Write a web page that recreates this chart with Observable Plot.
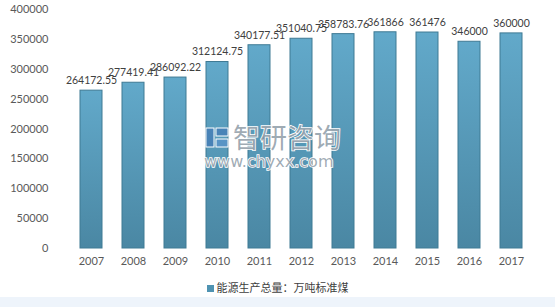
<!DOCTYPE html>
<html>
<head>
<meta charset="utf-8">
<script src="https://cdn.jsdelivr.net/npm/d3@7"></script>
<script src="https://cdn.jsdelivr.net/npm/@observablehq/plot@0.6"></script>
<style>
  html, body { margin: 0; padding: 0; background: #fff; }
  body { width: 555px; height: 307px; overflow: hidden; position: relative; font-family: Lato, "Noto Sans CJK SC", sans-serif; }
  #legend { position: absolute; top: 279px; left: 0; width: 555px; text-align: center; font-size: 11px; color: #404040; font-family: "Noto Sans CJK SC", sans-serif; }
  #legend .sw { display: inline-block; width: 7px; height: 7px; background: #4f93b2; margin-right: 3px; vertical-align: 0px; }
  #strip { position: absolute; top: 297px; left: 0; width: 555px; height: 10px; background: #eef4fb; }
</style>
</head>
<body>
<div id="chart"></div>
<div id="legend"><span class="sw"></span>能源生产总量：万吨标准煤</div>
<div id="strip"></div>
<script>
const years = ["2007","2008","2009","2010","2011","2012","2013","2014","2015","2016","2017"];
const values = [264172.55, 277419.41, 286092.22, 312124.75, 340177.51, 351040.75, 358783.76, 361866, 361476, 346000, 360000];
const labels = ["264172.55","277419.41","286092.22","312124.75","340177.51","351040.75","358783.76","361866","361476","346000","360000"];
const yTicks = [0, 50000, 100000, 150000, 200000, 250000, 300000, 350000, 400000];

const data = years.map((y, i) => ({year: y, value: values[i], label: labels[i]}));

const chart = Plot.plot({
  width: 555,
  height: 275,
  marginTop: 9,
  marginBottom: 27,
  marginLeft: 59,
  marginRight: 13,
  style: {fontFamily: "Lato, 'Noto Sans CJK SC', sans-serif", fontSize: "11px", color: "#595959", background: "transparent"},
  x: {domain: years, padding: 0.48, label: null, tickSize: 0, tickPadding: 9},
  y: {domain: [0, 400000], ticks: yTicks, label: null, tickSize: 0, tickPadding: 11, tickFormat: d => String(d)},
  marks: [
    Plot.gridY(yTicks, {stroke: "#d9d9d9", strokeOpacity: 1, x1: 59, x2: 542}),
    Plot.barY(data, {x: "year", y: "value", fill: "url(#barGrad)", stroke: "#3f7a94", strokeWidth: 1}),
    Plot.text(data, {x: "year", y: "value", text: "label", dy: -10, fill: "#404040", fontSize: 10.5}),
    Plot.axisX({tickSize: 0, tickPadding: 9, fill: "#595959"}),
    Plot.axisY({ticks: yTicks, tickSize: 0, tickPadding: 11, tickFormat: d => String(d), fill: "#595959"})
  ]
});

const svgNS = "http://www.w3.org/2000/svg";
const defs = document.createElementNS(svgNS, "defs");
defs.innerHTML = `<linearGradient id="barGrad" x1="0" y1="0" x2="0" y2="1">
  <stop offset="0" stop-color="#62a9ca"/>
  <stop offset="1" stop-color="#4a87a3"/>
</linearGradient>`;
chart.insertBefore(defs, chart.firstChild);

// watermark
const wm = document.createElementNS(svgNS, "g");
wm.setAttribute("text-anchor", "start");
wm.innerHTML = `
  <rect x="206" y="128" width="8" height="19" fill="#3d6fb5" fill-opacity="0.55" stroke="#fff" stroke-width="1"/>
  <rect x="216" y="128" width="12" height="8" fill="#3d6fb5" fill-opacity="0.55" stroke="#fff" stroke-width="1"/>
  <rect x="216" y="139" width="12" height="8" fill="#5a8fd0" fill-opacity="0.55" stroke="#fff" stroke-width="1"/>
  <text x="233" y="148" text-anchor="start" font-family="'Noto Sans CJK SC', sans-serif" font-size="27" fill="#7f8f9c" fill-opacity="0.75" stroke="#fff" stroke-width="1.5" paint-order="stroke">智研咨询</text>
  <text x="204" y="167" text-anchor="start" font-family="'DejaVu Sans', sans-serif" font-size="16" fill="#7f8f9c" fill-opacity="0.75" stroke="#fff" stroke-width="1.5" paint-order="stroke">www.chyxx.com</text>`;
chart.appendChild(wm);

document.getElementById("chart").appendChild(chart);
</script>
</body>
</html>
